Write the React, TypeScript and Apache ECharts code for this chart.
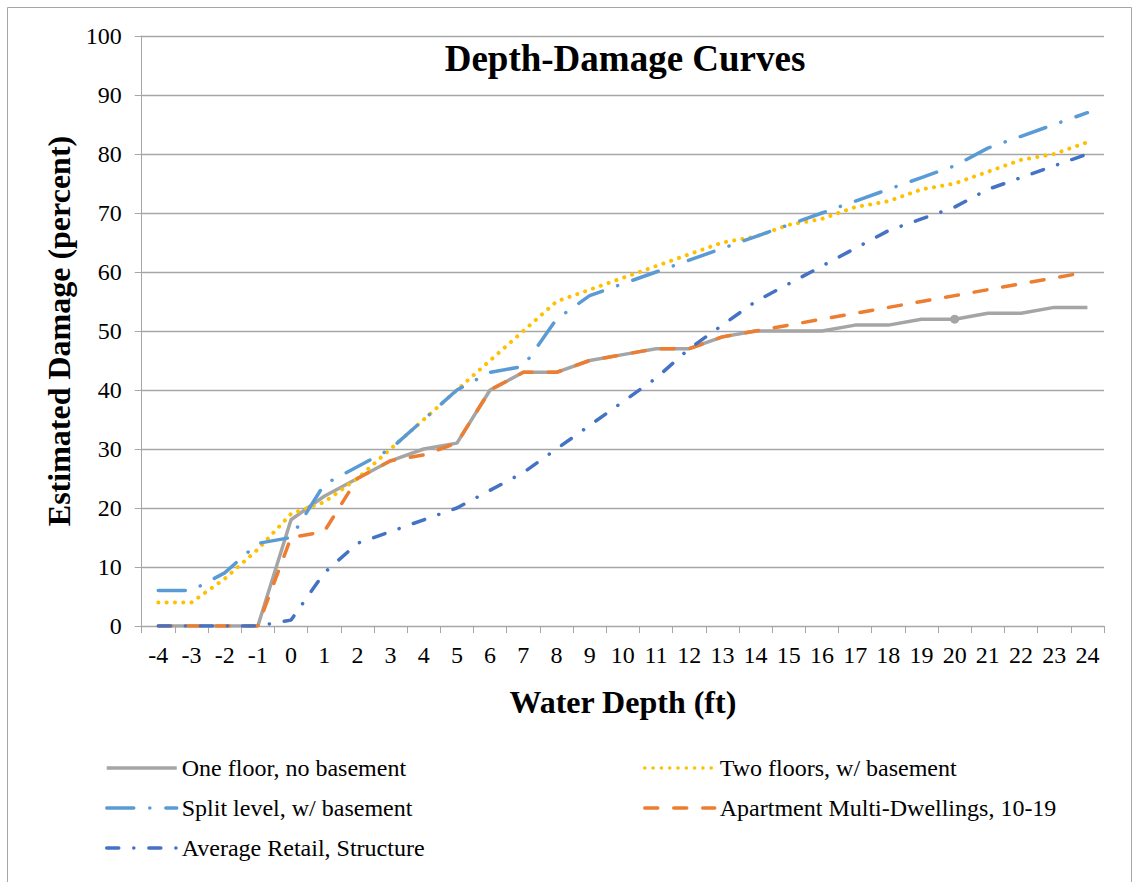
import React, { useEffect, useRef } from "react";
import * as echarts from "echarts";

const FONT = "Liberation Serif";

const depths = ["-4", "-3", "-2", "-1", "0", "1", "2", "3", "4", "5", "6", "7", "8", "9", "10", "11", "12", "13", "14", "15", "16", "17", "18", "19", "20", "21", "22", "23", "24"];

const oneFloor = [0, 0, 0, 0, 18, 22, 25, 28, 30, 31, 40, 43, 43, 45, 46, 47, 47, 49, 50, 50, 50, 51, 51, 52, 52, 53, 53, 54, 54];
const twoFloors = [4, 4, 8, 13, 19, 21, 25, 30, 35, 40, 45, 50, 55, 57, 59, 61, 63, 65, 66, 68, 69, 71, 72, 74, 75, 77, 79, 80, 82];
const splitLevel = [6, 6, 9, 14, 15, 24, 27, 30, 35, 40, 43, 44, 52, 56, 58, 60, 62, 64, 66, 68, 70, 72, 74, 76, 78, 81, 83, 85, 87];
const apartment = [0, 0, 0, 0, 15, 16, 25, 28, 29, 31, 40, 43, 43, 45, 46, 47, 47, 49, 50, 51, 52, 53, 54, 55, 56, 57, 58, 59, 60];
const retail = [0, 0, 0, 0, 1, 9, 14, 16, 18, 20, 23, 26, 30, 34, 38, 42, 47, 51, 55, 58, 61, 64, 67, 69, 71, 74, 76, 78, 80];

const seriesNames = [
  "One floor, no basement",
  "Two floors, w/ basement",
  "Split level, w/ basement",
  "Apartment Multi-Dwellings, 10-19",
  "Average Retail, Structure",
];

const markedIndex = 24; // highlighted point on the grey curve (depth 20)

export default function App() {
  const ref = useRef<HTMLDivElement>(null);

  useEffect(() => {
    const chart = echarts.init(ref.current!, null, { renderer: "svg" });
    const gray = "#A5A5A5";
    const axisColor = "#A6A6A6";
    const legendText = { fontFamily: FONT, fontSize: 24, color: "#000" };
    const mkLegend = (name: string, left: number, top: number) => ({
      left,
      top,
      padding: 0,
      itemWidth: 70,
      itemHeight: 14,
      data: [name],
      textStyle: legendText,
      itemStyle: { opacity: 0 },
      lineStyle: { width: 3.5 },
      selectedMode: false,
    });

    chart.setOption({
      animation: false,
      backgroundColor: "#fff",
      grid: { left: 141.7, right: 32, top: 36, bottom: 256, containLabel: false },
      graphic: [
        {
          type: "rect",
          silent: true,
          z: -10,
          shape: { x: 7.5, y: 7.5, width: 1124, height: 900 },
          style: { fill: "transparent", stroke: axisColor, lineWidth: 1 },
        },
        {
          type: "text",
          x: 625,
          y: 58,
          z: 10,
          style: {
            text: "Depth-Damage Curves",
            fontFamily: FONT,
            fontWeight: "bold",
            fontSize: 37,
            fill: "#000",
            align: "center",
            verticalAlign: "middle",
          },
        },
      ],
      legend: [
        mkLegend(seriesNames[0], 105, 756),
        mkLegend(seriesNames[1], 643, 756),
        mkLegend(seriesNames[2], 105, 796),
        mkLegend(seriesNames[3], 643, 796),
        mkLegend(seriesNames[4], 105, 836),
      ],
      xAxis: {
        type: "category",
        data: depths,
        boundaryGap: true,
        name: "Water Depth (ft)",
        nameLocation: "middle",
        nameGap: 60,
        nameTextStyle: { fontFamily: FONT, fontWeight: "bold", fontSize: 32, color: "#000" },
        axisLine: { lineStyle: { color: axisColor, width: 1 } },
        axisTick: { show: true, length: 7, lineStyle: { color: axisColor } },
        axisLabel: { fontFamily: FONT, fontSize: 24, color: "#000", margin: 17, interval: 0 },
        splitLine: { show: false },
      },
      yAxis: {
        type: "value",
        min: 0,
        max: 100,
        interval: 10,
        name: "Estimated Damage (percent)",
        nameLocation: "middle",
        nameGap: 65,
        nameTextStyle: { fontFamily: FONT, fontWeight: "bold", fontSize: 32, color: "#000" },
        axisLine: { show: true, lineStyle: { color: axisColor, width: 1 } },
        axisTick: { show: true, length: 7, lineStyle: { color: axisColor } },
        axisLabel: { fontFamily: FONT, fontSize: 24, color: "#000", margin: 20 },
        splitLine: { show: true, lineStyle: { color: axisColor, width: 1.3 } },
      },
      series: [
        {
          name: seriesNames[0],
          type: "line",
          symbol: "none",
          data: oneFloor.map((v, i) =>
            i === markedIndex
              ? { value: v, symbol: "circle", symbolSize: 9, itemStyle: { color: gray, borderWidth: 0 } }
              : v
          ),
          lineStyle: { color: gray, width: 3.5 },
          itemStyle: { color: gray },
        },
        {
          name: seriesNames[1],
          type: "line",
          symbol: "none",
          data: twoFloors,
          lineStyle: { color: "#FFC000", width: 4, type: [0.1, 8.2], cap: "round" },
          itemStyle: { color: "#FFC000" },
        },
        {
          name: seriesNames[2],
          type: "line",
          symbol: "none",
          data: splitLevel,
          lineStyle: { color: "#5B9BD5", width: 3.5, type: [27, 16, 0.1, 16], cap: "round" },
          itemStyle: { color: "#5B9BD5" },
        },
        {
          name: seriesNames[3],
          type: "line",
          symbol: "none",
          data: apartment,
          lineStyle: { color: "#ED7D31", width: 3.5, type: [13, 16], cap: "round" },
          itemStyle: { color: "#ED7D31" },
        },
        {
          name: seriesNames[4],
          type: "line",
          symbol: "none",
          data: retail,
          lineStyle: { color: "#4472C4", width: 3.5, type: [12, 15, 0.1, 15], cap: "round" },
          itemStyle: { color: "#4472C4" },
        },
      ],
    });
    return () => chart.dispose();
  }, []);

  return (
    <div
      ref={ref}
      style={{ position: "absolute", left: 0, top: 0, width: 1136, height: 882, background: "#fff" }}
    />
  );
}
